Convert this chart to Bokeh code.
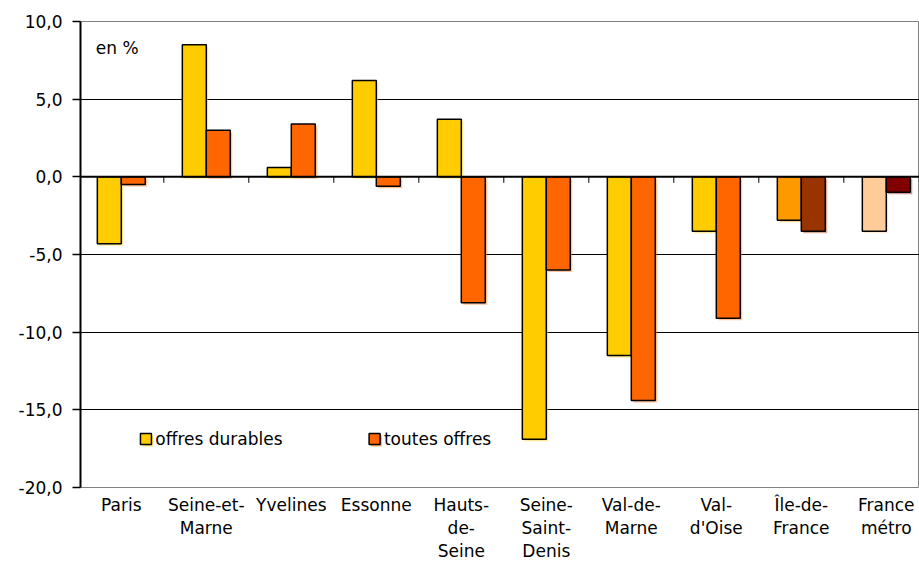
import numpy as np
from bokeh.plotting import figure
from bokeh.models import ColumnDataSource, FixedTicker, Span, Label, Range1d
from bokeh.transform import dodge
from bokeh.embed import file_html
from bokeh.resources import INLINE

# ---------------- data ----------------
categories = ["Paris", "Seine-et-\nMarne", "Yvelines", "Essonne", "Hauts-\nde-\nSeine",
              "Seine-\nSaint-\nDenis", "Val-de-\nMarne", "Val-\nd'Oise", "Île-de-\nFrance", "France\nmétro"]
offres_durables = [-4.3, 8.5, 0.6, 6.2, 3.7, -16.9, -11.5, -3.5, -2.8, -3.5]
toutes_offres = [-0.5, 3.0, 3.4, -0.6, -8.1, -6.0, -14.4, -9.1, -3.5, -1.0]
durables_colors = ["#FFCC00"] * 8 + ["#FF9900", "#FFCC99"]
toutes_colors = ["#FF6600"] * 8 + ["#993300", "#800000"]
series_names = ["offres durables", "toutes offres"]
y_ticks = [-20, -15, -10, -5, 0, 5, 10]
y_tick_labels = ["-20,0", "-15,0", "-10,0", "-5,0", "0,0", "5,0", "10,0"]

FONT = "DejaVu Sans"
n = len(categories)
x = np.arange(n) + 0.5
bar_w = 0.282

W, H = 919, 563
BL, BT, BB = 80, 21, 76
FRAME_H = H - BT - BB
y_lo, y_hi = min(y_ticks), max(y_ticks)
px_y = (y_hi - y_lo) / FRAME_H   # data units per pixel (y)
px_x = 1 / 85.0                  # data units per pixel (x)
x_start = 0.02
x_end = x_start + (W - BL) * px_x

src = ColumnDataSource(dict(
    x=x, dur=offres_durables, tou=toutes_offres,
    dur_c=durables_colors, tou_c=toutes_colors,
    dur_s=np.array(offres_durables) - 2 * px_y,
    tou_s=np.array(toutes_offres) - 2 * px_y,
    zero_s=np.full(n, -2 * px_y),
))

p = figure(width=W, height=H, x_range=Range1d(x_start, x_end), y_range=Range1d(y_lo, y_hi),
           output_backend="svg", toolbar_location=None,
           min_border_left=BL, min_border_right=0, min_border_top=BT, min_border_bottom=BB)

p.outline_line_color = "#808080"
p.outline_line_width = 1
p.xgrid.visible = False
p.ygrid.ticker = FixedTicker(ticks=[t for t in y_ticks if t not in (y_lo, y_hi, 0)])
p.ygrid.grid_line_color = "black"
p.ygrid.grid_line_width = 1

# shadows
p.vbar(x=dodge("x", -bar_w / 2 + 2 * px_x), width=bar_w, top="dur_s", bottom="zero_s",
       source=src, fill_color="dur_c", fill_alpha=0.4, line_color=None)
p.vbar(x=dodge("x", bar_w / 2 + 2 * px_x), width=bar_w, top="tou_s", bottom="zero_s",
       source=src, fill_color="tou_c", fill_alpha=0.4, line_color=None)
# bars
p.vbar(x=dodge("x", -bar_w / 2), width=bar_w, top="dur", bottom=0, source=src,
       fill_color="dur_c", line_color="black", line_width=1.5)
p.vbar(x=dodge("x", bar_w / 2), width=bar_w, top="tou", bottom=0, source=src,
       fill_color="tou_c", line_color="black", line_width=1.5)

# zero line with category tick marks
p.add_layout(Span(location=0, dimension="width", line_color="black", line_width=2))
bounds = np.arange(1, n)
p.segment(x0=bounds, y0=0, x1=bounds, y1=-6 * px_y, line_color="black", line_width=1)

# y axis
ya = p.yaxis[0]
ya.ticker = FixedTicker(ticks=y_ticks)
ya.major_label_overrides = dict(zip(y_ticks, y_tick_labels))
ya.major_tick_out = 8
ya.major_tick_in = 0
ya.minor_tick_out = 0
ya.minor_tick_in = 0
ya.axis_line_width = 2
ya.axis_line_color = "black"
ya.major_tick_line_color = "black"
ya.major_tick_line_width = 1.5
ya.major_label_standoff = 10
ya.major_label_text_font = FONT
ya.major_label_text_font_size = "17px"
ya.major_label_text_color = "black"

# x axis: category labels only
xa = p.xaxis[0]
xa.ticker = FixedTicker(ticks=list(x))
xa.major_label_overrides = dict(zip(list(x), categories))
xa.axis_line_color = None
xa.major_tick_line_color = None
xa.minor_tick_line_color = None
xa.major_tick_out = 0
xa.major_tick_in = 0
xa.major_label_standoff = 7
xa.major_label_text_font = FONT
xa.major_label_text_font_size = "17px"
xa.major_label_text_line_height = 1.15
xa.major_label_text_color = "black"
xa.major_label_orientation = "horizontal"

# "en %"
p.add_layout(Label(x=0.2, y=8.27, text="en %", text_font=FONT, text_font_size="17px",
                   text_baseline="middle", text_color="black"))

# legend (drawn manually)
leg_y = -16.87
leg_x = [0.79, 3.48]
leg_cols = [durables_colors[0], toutes_colors[0]]
for lx, col, name in zip(leg_x, leg_cols, series_names):
    p.scatter(x=[lx + 2 * px_x], y=[leg_y - 2 * px_y], marker="square", size=11,
              fill_color=col, fill_alpha=0.5, line_color=None)
    p.scatter(x=[lx], y=[leg_y], marker="square", size=11, fill_color=col,
              line_color="black", line_width=1.5)
    p.add_layout(Label(x=lx + 0.11, y=leg_y, text=name, text_font=FONT, text_font_size="17px",
                       text_baseline="middle", text_color="black"))

open("out.html", "w").write(file_html(p, INLINE))
